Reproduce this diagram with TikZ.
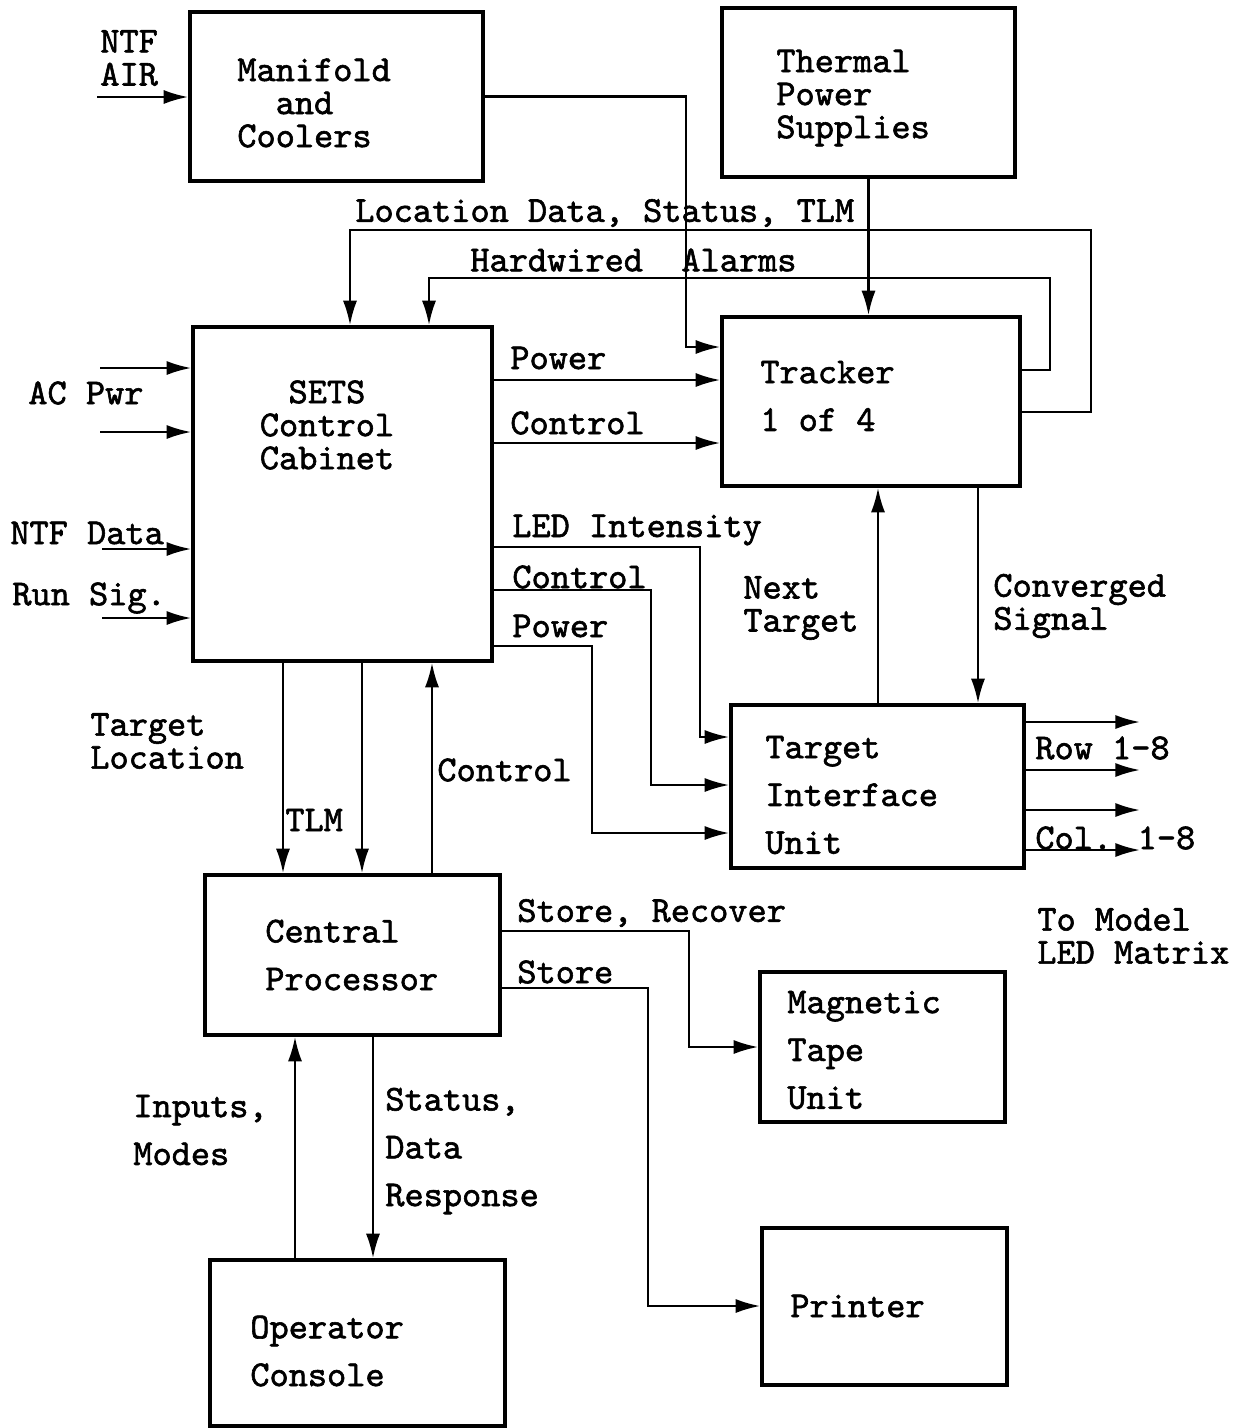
\documentclass[tikz,border=0pt]{standalone}
\usepackage{fontspec}
\newfontfamily\diagfont{lmmono10-regular.otf}[FakeBold=1.6]
\usepackage{tikz}
\usetikzlibrary{arrows.meta}

\begin{document}
\begin{tikzpicture}[x=0.02cm, y=-0.02cm,
	block/.style={draw, line width=2pt, inner sep=0},
	txt/.style={font=\diagfont\fontsize{20.8}{18.8}\selectfont, align=left, inner sep=0, anchor=west},
	wtxt/.style={txt, font=\diagfont\fontsize{20.8}{27.2}\selectfont},
	wire/.style={line width=1.4pt},
	arr/.style={wire, -{Latex[length=14pt, width=8pt]}}
]
\useasboundingbox (0,0) rectangle (1236,1428);

\node[block, minimum width=5.86cm, minimum height=3.38cm] (man) at (336.5,96.5) {};
\node[block, minimum width=5.86cm, minimum height=3.38cm] (tps) at (868.5,92.5) {};
\node[block, minimum width=5.98cm, minimum height=6.68cm] (sets) at (342.5,494) {};
\node[block, minimum width=5.96cm, minimum height=3.38cm] (trk) at (871,401.5) {};
\node[block, minimum width=5.86cm, minimum height=3.26cm] (tiu) at (877.5,786.5) {};
\node[block, minimum width=5.90cm, minimum height=3.20cm] (cp) at (352.5,955) {};
\node[block, minimum width=4.90cm, minimum height=3.00cm] (mtu) at (882.5,1047) {};
\node[block, minimum width=4.90cm, minimum height=3.14cm] (prt) at (884.5,1306.5) {};
\node[block, minimum width=5.90cm, minimum height=3.32cm] (opc) at (357.5,1343) {};

\node[txt] (t-man) at (237,103) {Manifold\\\hphantom{Ma}and\\Coolers};
\node[txt] (t-tps) at (776,98) {Thermal\\Power\\Supplies};
\node[txt, align=center, anchor=center] (t-sets) at (327,425) {SETS\\Control\\Cabinet};
\node[wtxt] (t-trk) at (760,396) {Tracker\\1 of 4};
\node[wtxt] (t-tiu) at (765,795) {Target\\Interface\\Unit};
\node[wtxt] (t-cp) at (265,955) {Central\\Processor};
\node[wtxt] (t-mtu) at (787,1050) {Magnetic\\Tape\\Unit};
\node[txt] (t-prt) at (790,1306) {Printer};
\node[wtxt] (t-opc) at (250,1351) {Operator\\Console};

\coordinate (air) at (97,97);
\coordinate (ac1) at (100,368);
\coordinate (ac2) at (100,432);
\coordinate (ntf) at (102,549);
\coordinate (run) at (102,618);
\coordinate (row1) at (1140,722);
\coordinate (row2) at (1140,770);
\coordinate (col1) at (1140,810);
\coordinate (col2) at (1140,850);
\coordinate (mc) at (686,347);
\coordinate (loc) at (1091,230);
\coordinate (alm) at (1050,278);
\coordinate (led) at (700,737);
\coordinate (ctl) at (651,785);
\coordinate (pwr) at (592,833);
\coordinate (rec) at (689,1047);
\coordinate (sto) at (648,1306);

\draw[arr] (air) -- (air -| man.west);
\draw[arr] (ac1) -- (ac1 -| sets.west);
\draw[arr] (ac2) -- (ac2 -| sets.west);
\draw[arr] (ntf) -- (ntf -| sets.west);
\draw[arr] (run) -- (run -| sets.west);

\draw[arr] (man.east) -| (mc) -- (mc -| trk.west);
\draw[arr] (tps.south) -- (tps.south |- trk.north);
\draw[arr] (trk.east |- 0,412) -| (loc) -| (sets.north -| 350,0);
\draw[arr] (trk.east |- 0,370) -| (alm) -| (sets.north -| 429,0);
\draw[arr] (sets.east |- 0,380) -- (trk.west |- 0,380);
\draw[arr] (sets.east |- 0,443) -- (trk.west |- 0,443);

\draw[arr] (sets.east |- 0,547) -| (led) -- (led -| tiu.west);
\draw[arr] (sets.east |- 0,590) -| (ctl) -- (ctl -| tiu.west);
\draw[arr] (sets.east |- 0,646) -| (pwr) -- (pwr -| tiu.west);

\draw[arr] (tiu.north -| 878,0) -- (trk.south -| 878,0);
\draw[arr] (trk.south -| 978,0) -- (tiu.north -| 978,0);

\draw[arr] (row1 -| tiu.east) -- (row1);
\draw[arr] (row2 -| tiu.east) -- (row2);
\draw[arr] (col1 -| tiu.east) -- (col1);
\draw[arr] (col2 -| tiu.east) -- (col2);

\draw[arr] (sets.south -| 283,0) -- (cp.north -| 283,0);
\draw[arr] (sets.south -| 362,0) -- (cp.north -| 362,0);
\draw[arr] (cp.north -| 432,0) -- (sets.south -| 432,0);

\draw[arr] (cp.east |- 0,931) -| (rec) -- (rec -| mtu.west);
\draw[arr] (cp.east |- 0,988) -| (sto) -- (sto -| prt.west);

\draw[arr] (opc.north -| 295,0) -- (cp.south -| 295,0);
\draw[arr] (cp.south -| 373,0) -- (opc.north -| 373,0);

\node[txt] (l-air) at (100,58) {NTF\\AIR};
\node[txt] (l-loc) at (355,213) {Location Data, Status, TLM};
\node[txt] (l-alm) at (470,260) {Hardwired\ \ Alarms};
\node[txt] (l-ac) at (28,393) {AC Pwr};
\node[txt] (l-ntf) at (10,533) {NTF Data};
\node[txt] (l-run) at (12,598) {Run Sig.};
\node[txt] (l-pw1) at (510,358) {Power};
\node[txt] (l-ct1) at (510,423) {Control};
\node[txt] (l-led) at (512,530) {LED Intensity};
\node[txt] (l-ct2) at (512,577) {Control};
\node[txt] (l-pw2) at (512,626) {Power};
\node[txt] (l-nxt) at (743,608) {Next\\Target};
\node[txt] (l-cnv) at (993,606) {Converged\\Signal};
\node[txt] (l-row) at (1035,748) {Row 1-8};
\node[txt] (l-col) at (1035,838) {Col. 1-8};
\node[txt] (l-mod) at (1037,936) {To Model\\LED Matrix};
\node[txt] (l-tl) at (90,741) {Target\\Location};
\node[txt] (l-tlm) at (285,820) {TLM};
\node[txt] (l-ct3) at (437,770) {Control};
\node[txt] (l-sr) at (517,913) {Store, Recover};
\node[txt] (l-st) at (517,972) {Store};
\node[wtxt] (l-in) at (133,1130) {Inputs,\\Modes};
\node[wtxt] (l-sd) at (385,1151) {Status,\\Data\\Response};
\end{tikzpicture}
\end{document}
